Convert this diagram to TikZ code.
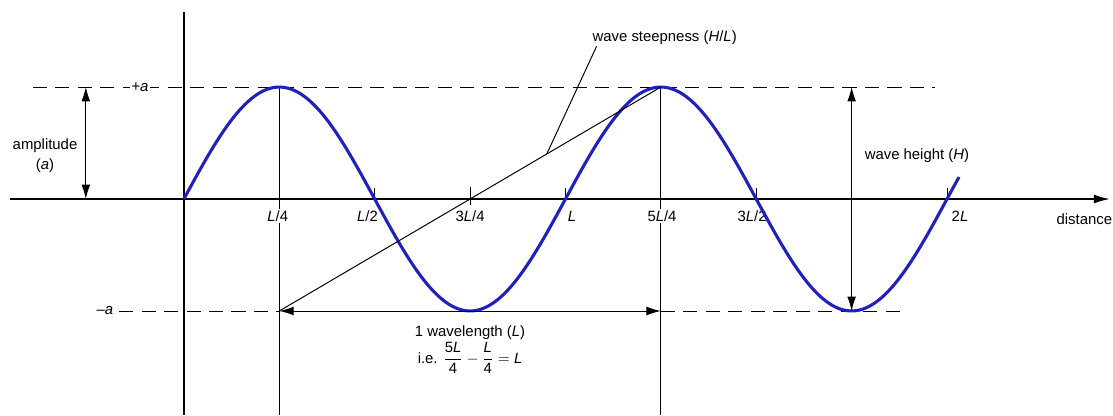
\documentclass[tikz,border=0pt]{standalone}
\usepackage{amsmath}
\usepackage{fontspec}
\setmainfont{Liberation Sans}
\usetikzlibrary{arrows.meta}
\definecolor{waveblue}{RGB}{32,32,190}

\begin{document}
\begin{tikzpicture}[x=9.54cm, y=2.8cm,
  every node/.style={font=\fontsize{10.6}{14}\selectfont, inner sep=1pt},
  wave/.style={draw=waveblue, line width=2.2pt},
  axisline/.style={line width=1.1pt},
  marker/.style={line width=0.7pt},
  guide/.style={line width=0.7pt, dash pattern=on 10pt off 6pt},
  dimarrow/.style={line width=0.7pt, {Latex[length=3.6mm,width=2.2mm]}-{Latex[length=3.6mm,width=2.2mm]}}]
  \useasboundingbox (-0.482,-1.929) rectangle (2.435,1.777);

  % Define crest and trough points
  \coordinate (O) at (0,0);
  \coordinate (crestA) at (0.25,1);    % first crest, L/4
  \coordinate (crestB) at (1.25,1);    % second crest, 5L/4
  \coordinate (footA) at (0.25,-1);    % below first crest
  \coordinate (footB) at (1.25,-1);    % below second crest
  \coordinate (troughB) at (1.75,-1);  % second trough
  \coordinate (topB) at (1.75,1);
  \coordinate (ampTop) at (-0.257,1);
  \coordinate (ampBot) at (-0.257,0);
  \coordinate (steepPt) at (0.951,0.402);

  % Axes
  \draw[axisline] (0,1.67) -- (0,-1.93);
  \draw[axisline, -{Latex[length=4mm,width=2.2mm]}] (-0.456,0) -- (2.427,0);
  \node (distLabel) at (2.36,-0.18) {distance};

  % Levels +a and -a
  \draw[guide] (-0.396,1) -- (1.968,1);
  \node[fill=white] (plusA) at (-0.115,1) {+\textit{a}};
  \draw[guide] (-0.17,-1) -- (footA);
  \draw[guide] (footB) -- (1.889,-1);
  \node (minusA) at (-0.207,-1) {--\textit{a}};

  % Verticals through the crests
  \draw[marker] (crestA) -- (0.25,-1.93);
  \draw[marker] (crestB) -- (1.25,-1.93);

  % Ticks and their labels
  \foreach \t in {0.5,1,1.5,2}
    \draw[marker] (\t,0) -- (\t,0.1);
  \draw[marker] (0.75,-0.05) -- (0.75,0.11);
  \foreach \t/\lab [count=\i] in {0.246/{\textit{L}/4}, 0.481/{\textit{L}/2},
      0.75/{3\textit{L}/4}, 1.017/{\textit{L}}, 1.253/{5\textit{L}/4},
      1.489/{3\textit{L}/2}, 2.034/{2\textit{L}}}
    \node[fill=white] (tick\i) at (\t,-0.152) {\lab};

  % The wave
  \draw[wave] plot[domain=0:2.034, samples=200, smooth] (\x,{sin(360*\x)});

  % Amplitude
  \draw[dimarrow] (ampTop) -- (ampBot);
  \node[align=center] (ampLabel) at (-0.364,0.39) {amplitude\\(\textit{a})};

  % Wave steepness
  \draw[marker] (footA) -- (crestB);
  \node (steepLabel) at (1.26,1.44) {wave steepness (\textit{H}/\textit{L})};
  \draw[marker] ([xshift=4pt]steepLabel.south west) -- (steepPt);

  % Wave height
  \draw[dimarrow] (topB) -- (troughB);
  \node[anchor=west] (heightLabel) at (1.78,0.39) {wave height (\textit{H})};

  % Wavelength
  \draw[dimarrow] (footA) -- (footB);
  \node (waveLabel) at (0.75,-1.19) {1 wavelength (\textit{L})};
  \node (ieLabel) at (0.75,-1.42) {i.e. $\dfrac{\text{5\textit{L}}}{\text{4}} - \dfrac{\textit{L}}{\text{4}} = \textit{L}$};

\end{tikzpicture}
\end{document}
